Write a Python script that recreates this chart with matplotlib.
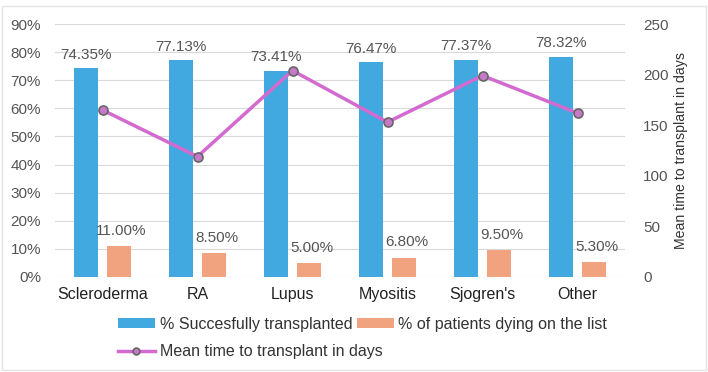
import numpy as np
import matplotlib.pyplot as plt
from matplotlib.patches import Rectangle

plt.rcParams['font.family'] = ['Liberation Sans', 'DejaVu Sans']

categories = ["Scleroderma", "RA", "Lupus", "Myositis", "Sjogren's", "Other"]
transplanted = [74.35, 77.13, 73.41, 76.47, 77.37, 78.32]
dying = [11.00, 8.50, 5.00, 6.80, 9.50, 5.30]
mean_days = [165, 119, 204, 153, 199, 162]

blue = "#41A9DF"
orange = "#F1A37F"
purple = "#D26AD0"
txt = "#555555"

fig = plt.figure(figsize=(7.08, 3.72), dpi=100)
ax = fig.add_axes([55/708, 95/372, 570/708, 253/372])
x = np.arange(len(categories))
w = 0.25

b1 = ax.bar(x - 0.17, transplanted, w, color=blue, label="% Succesfully transplanted", zorder=2)
b2 = ax.bar(x + 0.17, dying, w, color=orange, label="% of patients dying on the list", zorder=2)

for i in range(len(x)):
    ax.text(x[i] - 0.17, transplanted[i] + 2.3, f"{transplanted[i]:.2f}%", ha="center",
            va="bottom", fontsize=11, color=txt)
    ax.text(x[i] + 0.2, dying[i] + 3, f"{dying[i]:.2f}%", ha="center",
            va="bottom", fontsize=11, color=txt)

ax.set_xlim(-0.5, len(x) - 0.5)
ax.set_ylim(0, 90)
ax.set_yticks(range(0, 91, 10))
ax.set_yticklabels([f"{v}%" for v in range(0, 91, 10)])
ax.set_xticks(x)
ax.set_xticklabels(categories, fontsize=11.5, color="#222222")
ax.grid(axis="y", color="#D9D9D9", linewidth=0.8, zorder=0)
for s in ax.spines.values():
    s.set_visible(False)
ax.tick_params(axis="y", length=0, labelsize=11, labelcolor=txt, pad=10)
ax.tick_params(axis="x", length=0, pad=7)

ax2 = ax.twinx()
ln, = ax2.plot(x, mean_days, color=purple, linewidth=2.5, marker="o", markersize=6.5,
               markerfacecolor="#C779C9", markeredgecolor="#666666", markeredgewidth=1.2,
               label="Mean time to transplant in days", zorder=3)
ax2.set_ylim(0, 250)
ax2.set_yticks(range(0, 251, 50))
for s in ax2.spines.values():
    s.set_visible(False)
ax2.tick_params(axis="y", length=0, labelsize=11, labelcolor=txt, pad=13)
ax2.set_ylabel("Mean time to transplant in days", fontsize=10.2, color="#333333", labelpad=4)

leg_kw = dict(loc="upper left", frameon=False, fontsize=11.5, handlelength=2.3,
              handleheight=0.6, handletextpad=0.3, columnspacing=0.3,
              borderaxespad=0, borderpad=0, labelcolor="#333333")
leg1 = fig.legend([b1, b2], [b1.get_label(), b2.get_label()], ncol=2,
                  bbox_to_anchor=(118/708, 1 - 317/372), **leg_kw)
leg2 = fig.legend([ln], [ln.get_label()], markerscale=0.75,
                  bbox_to_anchor=(118/708, 1 - 344/372), **leg_kw)

fig.patches.append(Rectangle((2/708, 2/372), 704/708, 364/372, transform=fig.transFigure,
                             fill=False, edgecolor="#E3E3E3", linewidth=1))

fig.savefig("out.png", dpi=100)
